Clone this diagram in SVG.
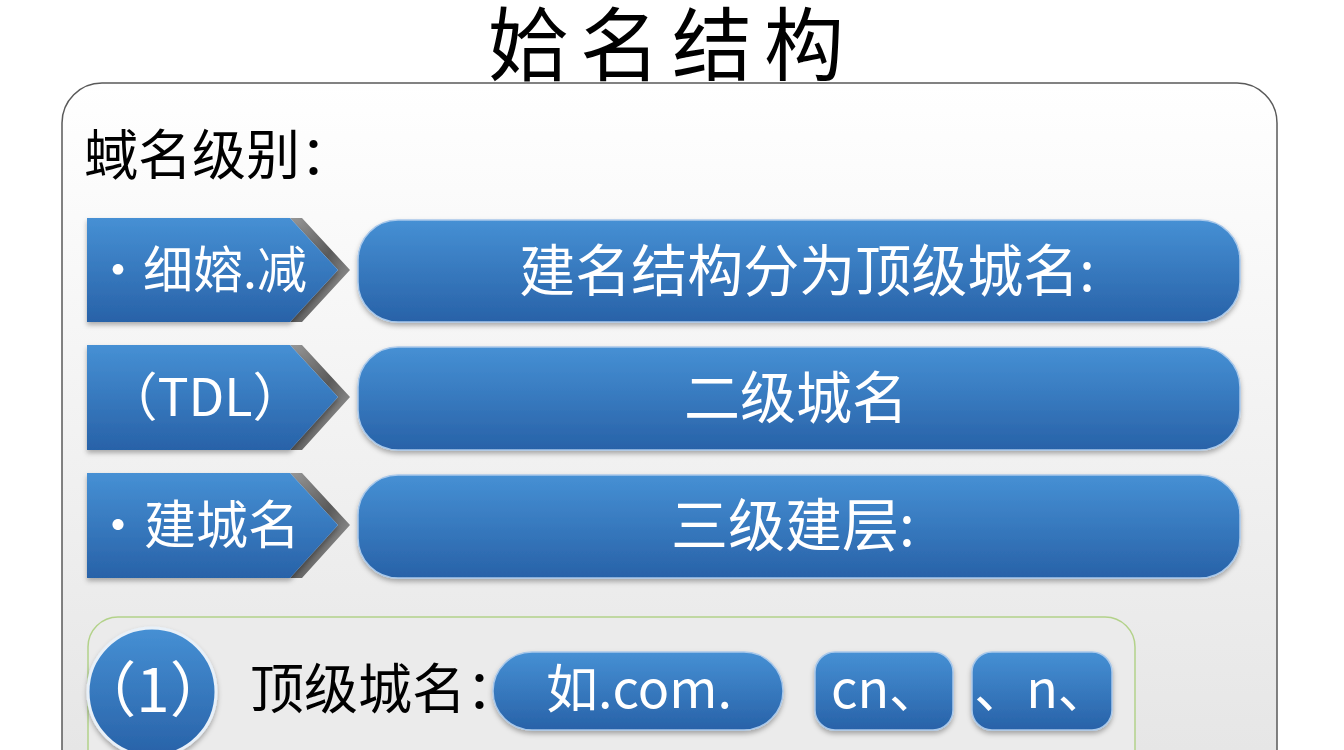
<svg xmlns="http://www.w3.org/2000/svg" width="1344" height="750" viewBox="0 0 1344 750">
<defs>
<linearGradient id="panelG" x1="0" y1="0" x2="0" y2="1">
<stop offset="0" stop-color="#ffffff"/>
<stop offset="1" stop-color="#e4e4e4"/>
</linearGradient>
<linearGradient id="blueG" x1="0" y1="0" x2="0" y2="1">
<stop offset="0" stop-color="#4690d4"/>
<stop offset="1" stop-color="#2862a8"/>
</linearGradient>
<linearGradient id="bevelG" x1="0" y1="0" x2="1" y2="1">
<stop offset="0" stop-color="#9a9a9a"/>
<stop offset="0.5" stop-color="#5a5a5a"/>
<stop offset="1" stop-color="#b0b0b0"/>
</linearGradient>
<filter id="sh" x="-5%" y="-10%" width="110%" height="130%">
<feDropShadow dx="0" dy="3" stdDeviation="2.5" flood-color="#000" flood-opacity="0.3"/>
</filter>
<style>
.cjk{font-family:"Noto Sans CJK SC","Liberation Sans",sans-serif;}
.w{fill:#ffffff;}
.k{fill:#000000;}
.box{fill:url(#blueG);stroke:#a9c8ea;stroke-width:1.5;filter:url(#sh);}
.chev{fill:url(#blueG);filter:url(#sh);}
.bevel{fill:url(#bevelG);}
</style>
</defs>
<rect x="0" y="0" width="1344" height="750" fill="#ffffff"/>
<g id="title">
<text class="cjk k" x="672" y="74" font-size="80" letter-spacing="12" text-anchor="middle">姶名结构</text>
</g>
<g id="panel">
<rect x="62" y="83" width="1215" height="720" rx="40" fill="url(#panelG)" stroke="#5a5a5a" stroke-width="1.5"/>
<text class="cjk k" x="84" y="175" font-size="54">蜮名级别：</text>
</g>
<g id="row1-left">
<polygon class="bevel" points="290,218 302,218 350,270 302,322 290,322 338,270"/>
<polygon class="chev" points="87,218 290,218 338,270 290,322 87,322"/>
<text class="cjk w" x="93" y="288" font-size="50">·细嫆.减</text>
</g>
<g id="row2-left">
<polygon class="bevel" points="290,345 302,345 350,397 302,450 290,450 338,397"/>
<polygon class="chev" points="87,345 290,345 338,397 290,450 87,450"/>
<text class="cjk w" x="205" y="416" font-size="52" text-anchor="middle">（TDL）</text>
</g>
<g id="row3-left">
<polygon class="bevel" points="290,473 302,473 350,525 302,578 290,578 338,525"/>
<polygon class="chev" points="87,473 290,473 338,525 290,578 87,578"/>
<text class="cjk w" x="92" y="544" font-size="52">·建城名</text>
</g>
<g id="row1-right">
<rect class="box" x="358" y="220" width="882" height="102" rx="40"/>
<text class="cjk w" x="807" y="291" font-size="56" text-anchor="middle">建名结构分为顶级城名:</text>
</g>
<g id="row2-right">
<rect class="box" x="358" y="347" width="882" height="103" rx="40"/>
<text class="cjk w" x="796" y="418" font-size="56" text-anchor="middle">二级城名</text>
</g>
<g id="row3-right">
<rect class="box" x="358" y="475" width="882" height="103" rx="40"/>
<text class="cjk w" x="793" y="546" font-size="57" text-anchor="middle">三级建层:</text>
</g>
<g id="example">
<rect x="88" y="617" width="1047" height="200" rx="30" fill="#ebebeb" stroke="#b3d28a" stroke-width="1.5"/>
</g>
<g id="circle1">
<circle cx="152" cy="692" r="64" fill="url(#blueG)" stroke="#e8f0f8" stroke-width="3" filter="url(#sh)"/>
<text class="cjk w" x="153" y="712" font-size="60" text-anchor="middle">（1）</text>
</g>
<g id="tld-label">
<text class="cjk k" x="250" y="709" font-size="54">顶级城名：</text>
</g>
<g id="pill-com">
<rect class="box" x="493" y="652" width="290" height="78" rx="39"/>
<text class="cjk w" x="639" y="708" font-size="52" text-anchor="middle">如.com.</text>
</g>
<g id="pill-cn">
<rect class="box" x="815" y="652" width="138" height="78" rx="20"/>
<text class="cjk w" x="886" y="708" font-size="52" text-anchor="middle">cn、</text>
</g>
<g id="pill-n">
<rect class="box" x="972" y="652" width="140" height="78" rx="20"/>
<text class="cjk w" x="1042" y="708" font-size="52" text-anchor="middle">、n、</text>
</g>
</svg>
